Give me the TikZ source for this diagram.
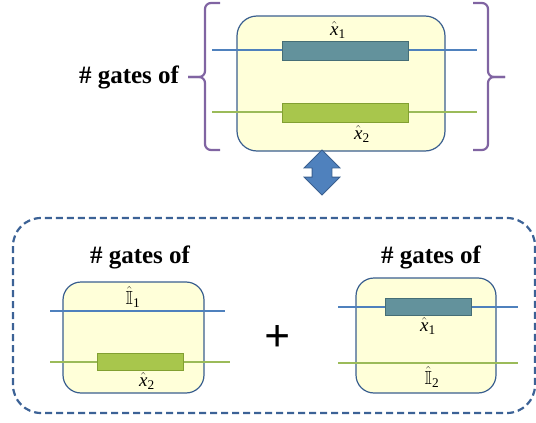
\documentclass[tikz,border=0pt]{standalone}
\usepackage{amsmath}
\usepackage{amssymb}
\usepackage{fontspec}
\setmainfont{Liberation Serif}
\usepackage{tikz}
\usetikzlibrary{positioning}
\usetikzlibrary{shapes.arrows}

\definecolor{boxfill}{RGB}{255,255,217}
\definecolor{boxline}{RGB}{58,95,143}
\definecolor{wireblue}{RGB}{79,129,189}
\definecolor{wiregreen}{RGB}{155,187,89}
\definecolor{gatebfill}{RGB}{99,146,156}
\definecolor{gatebline}{RGB}{70,110,118}
\definecolor{gategfill}{RGB}{168,198,76}
\definecolor{gategline}{RGB}{130,160,50}
\definecolor{bracepurple}{RGB}{128,100,162}
\definecolor{dashblue}{RGB}{60,98,150}
\definecolor{arrowblue}{RGB}{79,129,189}

\begin{document}
\begin{tikzpicture}[x=1pt, y=-1pt,
    circbox/.style={draw=boxline, fill=boxfill, line width=1.2pt, rounded corners=20pt, inner sep=0pt},
    wireb/.style={draw=wireblue, line width=2pt},
    wireg/.style={draw=wiregreen, line width=2pt},
    gateb/.style={draw=gatebline, fill=gatebfill, line width=1pt, inner sep=0pt},
    gateg/.style={draw=gategline, fill=gategfill, line width=1pt, inner sep=0pt},
    bracket/.style={draw=bracepurple, line width=2.2pt},
    titletext/.style={font=\fontsize{25}{30}\selectfont\bfseries, inner sep=0pt},
    oplabel/.style={font=\fontsize{19}{23}\selectfont, inner sep=0pt}]

  \useasboundingbox (0,0) rectangle (536,423);

  % upper circuit
  \node at (341,83.5) (top) [circbox, minimum width=208pt, minimum height=135pt] {};
  \coordinate (t1l) at (212,50);   \coordinate (t1r) at (477,50);
  \coordinate (t2l) at (212,112);  \coordinate (t2r) at (477,112);
  \draw [wireb] (t1l) -- (t1r);
  \draw [wireg] (t2l) -- (t2r);
  \node at (345,50.5) (tg1) [gateb, minimum width=126pt, minimum height=19pt] {};
  \node at (345,112.5) (tg2) [gateg, minimum width=126pt, minimum height=19pt] {};
  \node at (338,30) (tx1) [oplabel] {$\hat{\textit{x}}_{\text{1}}$};
  \node at (362,134) (tx2) [oplabel] {$\hat{\textit{x}}_{\text{2}}$};

  % brackets round it
  \node at (129,77) (toptitle) [titletext] {\# gates of};
  \draw [bracket] (220,3) -- (211,3) to[out=180, in=90] (205,9) -- (205,71)
    to[out=-90, in=0] (199,77) -- (188,77);
  \draw [bracket] (188,77) -- (199,77) to[out=0, in=90] (205,83) -- (205,144)
    to[out=-90, in=180] (211,150) -- (220,150);
  \draw [bracket] (473,3) -- (482,3) to[out=0, in=90] (488,9) -- (488,71)
    to[out=-90, in=180] (494,77) -- (505,77);
  \draw [bracket] (505,77) -- (494,77) to[out=180, in=90] (488,83) -- (488,144)
    to[out=-90, in=0] (482,150) -- (473,150);

  % equivalence arrow
  \node at (322,172.5) (equiv) [double arrow, shape border rotate=90, draw=boxline,
    fill=arrowblue, line width=0.8pt, inner sep=9.5pt, minimum height=45pt,
    minimum width=35pt, double arrow head extend=8pt] {};

  % lower part
  \draw [dashblue, line width=2.2pt, dash pattern=on 7pt off 4pt, rounded corners=28pt]
    (13,218) rectangle (535,413);

  % left term
  \node at (140,257) (ltitle) [titletext] {\# gates of};
  \node at (133.5,337.5) (lbox) [circbox, rounded corners=18pt, minimum width=141pt, minimum height=111pt] {};
  \coordinate (l1l) at (50,311);  \coordinate (l1r) at (225,311);
  \coordinate (l2l) at (50,362);  \coordinate (l2r) at (230,362);
  \draw [wireb] (l1l) -- (l1r);
  \draw [wireg] (l2l) -- (l2r);
  \node at (140,361.5) (lg2) [gateg, minimum width=86pt, minimum height=17pt] {};
  \node at (133,297) (li1) [oplabel] {$\hat{\mathbb{I}}_{\text{1}}$};
  \node at (147,381) (lx2) [oplabel] {$\hat{\textit{x}}_{\text{2}}$};

  \node at (278,339) (plus) [font=\fontsize{46}{50}\selectfont\bfseries, inner sep=0pt] {+};

  % right term
  \node at (431,257) (rtitle) [titletext] {\# gates of};
  \node at (426,335.5) (rbox) [circbox, rounded corners=18pt, minimum width=140pt, minimum height=115pt] {};
  \coordinate (r1l) at (338,307);  \coordinate (r1r) at (518,307);
  \coordinate (r2l) at (338,363);  \coordinate (r2r) at (518,363);
  \draw [wireb] (r1l) -- (r1r);
  \draw [wireg] (r2l) -- (r2r);
  \node at (428,306.5) (rg1) [gateb, minimum width=86pt, minimum height=17pt] {};
  \node at (428,326) (rx1) [oplabel] {$\hat{\textit{x}}_{\text{1}}$};
  \node at (432,377) (ri2) [oplabel] {$\hat{\mathbb{I}}_{\text{2}}$};

\end{tikzpicture}
\end{document}
